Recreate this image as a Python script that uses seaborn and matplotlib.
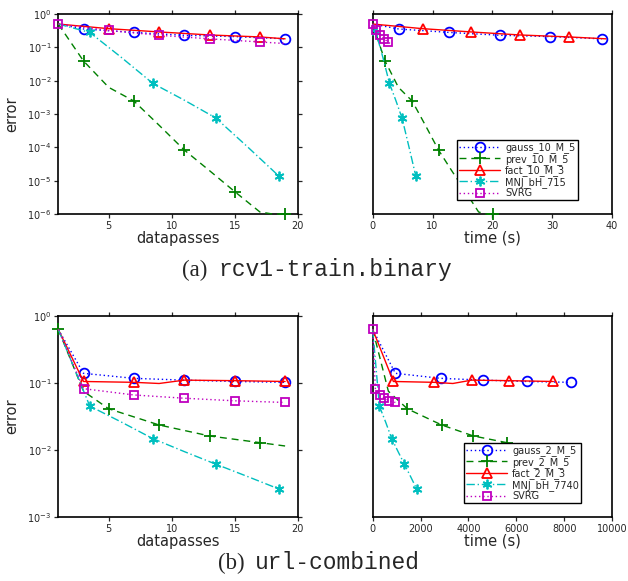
import matplotlib
matplotlib.use("Agg")
import matplotlib.pyplot as plt
import seaborn as sns
from matplotlib.ticker import NullLocator

# ---------------- data ----------------
labels_a = ["gauss_10_M_5", "prev_10_M_5", "fact_10_M_3", "MNJ_bH_715", "SVRG"]
labels_b = ["gauss_2_M_5", "prev_2_M_5", "fact_2_M_3", "MNJ_bH_7740", "SVRG"]

# (a) rcv1-train.binary
dp_gauss_a = [1, 3, 7, 11, 15, 19]
err_gauss_a = [0.5, 0.355, 0.28, 0.23, 0.21, 0.18]
t_gauss_a = [0, 4.35, 12.8, 21.3, 29.7, 38.3]

dp_prev_a = [1, 3, 5, 7, 9, 11, 13, 15, 17, 18, 19]
err_prev_a = [0.5, 0.039, 0.0063, 0.00245, 4.6e-4, 8.3e-5, 2.0e-5, 4.7e-6, 1.15e-6, 1e-6, 1e-6]
t_prev_a = [0, 2.06, 4.3, 6.6, 8.8, 11.0, 13.2, 15.5, 17.7, 18.9, 20.05]

dp_fact_a = [1, 5, 9, 13, 17, 19]
err_fact_a = [0.5, 0.363, 0.29, 0.235, 0.205, 0.18]
t_fact_a = [0, 8.36, 16.4, 24.6, 32.8, 39.0]

dp_mnj_a = [1, 3.5, 6, 8.5, 11, 13.5, 16, 18.5]
err_mnj_a = [0.5, 0.28, 0.05, 0.0083, 0.0026, 7.6e-4, 1.05e-4, 1.38e-5]
t_mnj_a = [0, 0.55, 1.7, 2.8, 3.85, 4.9, 6.05, 7.2]

dp_svrg_a = [1, 5, 9, 13, 17, 19]
err_svrg_a = [0.5, 0.32, 0.23, 0.18, 0.145, 0.13]
t_svrg_a = [0, 0.56, 1.2, 1.9, 2.56, 2.9]

# (b) url-combined
dp_gauss_b = [1, 3, 7, 11, 15, 19]
err_gauss_b = [0.63, 0.139, 0.117, 0.11, 0.105, 0.102]
t_gauss_b = [0, 947, 2841, 4624, 6435, 8273]

dp_prev_b = [1, 3, 5, 9, 13, 17, 19]
err_prev_b = [0.63, 0.075, 0.041, 0.0235, 0.0161, 0.0128, 0.0114]
t_prev_b = [0, 655, 1448, 2883, 4206, 5599, 6300]

dp_fact_b = [1, 3, 7, 9, 11, 15, 19]
err_fact_b = [0.63, 0.105, 0.102, 0.098, 0.11, 0.108, 0.105]
t_fact_b = [0, 864, 2563, 3350, 4136, 5710, 7549]

dp_mnj_b = [1, 3.5, 6, 8.5, 11, 13.5, 16, 18.5]
err_mnj_b = [0.63, 0.045, 0.026, 0.0147, 0.0094, 0.0061, 0.004, 0.0026]
t_mnj_b = [0, 279, 540, 794, 1060, 1323, 1580, 1838]

dp_svrg_b = [1, 3, 7, 11, 15, 19]
err_svrg_b = [0.63, 0.082, 0.066, 0.059, 0.054, 0.051]
t_svrg_b = [0, 111, 306, 487, 696, 947]

# ---------------- style ----------------
sns.set_style("ticks")
plt.rcParams["font.family"] = ["DejaVu Sans"]
plt.rcParams["mathtext.default"] = "regular"

colors = [(0, 0, 1), (0, 0.5, 0), (1, 0, 0), (0, 0.75, 0.75), (0.75, 0, 0.75)]
lstyles = [(0, (1, 2)), (0, (5, 3.5)), "-", (0, (6, 2, 1, 2)), (0, (1, 2))]
markers = ["o", "+", "^", (6, 2, 0), "s"]
msizes = [7, 8, 7, 7, 5.5]

fig = plt.figure(figsize=(6.28, 5.81), dpi=100)
W, H = 628.0, 581.0


def axes_px(x0, x1, ytop, ybot):
    return fig.add_axes([x0 / W, 1 - ybot / H, (x1 - x0) / W, (ybot - ytop) / H])


ax_a1 = axes_px(58.3, 297.7, 14, 214)
ax_a2 = axes_px(372.7, 612, 14, 214)
ax_b1 = axes_px(58.3, 297.7, 316, 516.7)
ax_b2 = axes_px(372.7, 612, 316, 516.7)

panels = [
    (ax_a1, [dp_gauss_a, dp_prev_a, dp_fact_a, dp_mnj_a, dp_svrg_a],
     [err_gauss_a, err_prev_a, err_fact_a, err_mnj_a, err_svrg_a],
     [[1, 2, 3, 4, 5], [1, 3, 5, 7, 10], [1, 2, 3, 4], [1, 3, 5, 7], [0, 1, 2, 3, 4]]),
    (ax_a2, [t_gauss_a, t_prev_a, t_fact_a, t_mnj_a, t_svrg_a],
     [err_gauss_a, err_prev_a, err_fact_a, err_mnj_a, err_svrg_a],
     [[1, 2, 3, 4, 5], [1, 3, 5, 7, 10], [1, 2, 3, 4], [1, 3, 5, 7], [0, 1, 2, 3, 4]]),
    (ax_b1, [dp_gauss_b, dp_prev_b, dp_fact_b, dp_mnj_b, dp_svrg_b],
     [err_gauss_b, err_prev_b, err_fact_b, err_mnj_b, err_svrg_b],
     [[1, 2, 3, 4, 5], [0, 2, 3, 4, 5], [1, 2, 4, 5, 6], [1, 3, 5, 7], [1, 2, 3, 4, 5]]),
    (ax_b2, [t_gauss_b, t_prev_b, t_fact_b, t_mnj_b, t_svrg_b],
     [err_gauss_b, err_prev_b, err_fact_b, err_mnj_b, err_svrg_b],
     [[1, 2, 3, 4, 5], [2, 3, 4, 5], [1, 2, 4, 5, 6], [1, 3, 5, 7], [0, 1, 2, 3, 4, 5]]),
]

for ax, xs, ys, mevs in panels:
    ax.set_yscale("log")
    for i in range(5):
        sns.lineplot(x=xs[i], y=ys[i], ax=ax, color=colors[i], linestyle=lstyles[i],
                     linewidth=1.0, marker=markers[i], markevery=mevs[i],
                     markersize=msizes[i], markerfacecolor="none",
                     markeredgecolor=colors[i], markeredgewidth=1.3,
                     clip_on=False, zorder=3)

for ax in [ax_a1, ax_a2, ax_b1, ax_b2]:
    for sp in ax.spines.values():
        sp.set_visible(True)
        sp.set_linewidth(1.2)
        sp.set_color("black")
    ax.yaxis.set_minor_locator(NullLocator())
    ax.xaxis.set_minor_locator(NullLocator())
    ax.tick_params(axis="both", which="major", direction="out", length=3,
                   width=0.9, labelsize=7, pad=2, top=True, bottom=True)
    ax.set_xlabel("")
    ax.set_ylabel("")

for ax in [ax_a1, ax_a2]:
    ax.set_ylim(1e-6, 1e0)
    ax.set_yticks([1e-6, 1e-5, 1e-4, 1e-3, 1e-2, 1e-1, 1e0])
for ax in [ax_b1, ax_b2]:
    ax.set_ylim(1e-3, 1e0)
    ax.set_yticks([1e-3, 1e-2, 1e-1, 1e0])
for ax in [ax_a1, ax_b1]:
    ax.set_xlim(1, 20)
    ax.set_xticks([5, 10, 15, 20])
    ax.tick_params(axis="y", left=True, right=True)
    ax.set_ylabel("error", fontsize=10.5, labelpad=6)
    ax.set_xlabel("datapasses", fontsize=10.5, labelpad=0)
    ax.yaxis.set_minor_locator(NullLocator())
for ax in [ax_a2, ax_b2]:
    ax.tick_params(axis="y", left=False, right=False, labelleft=False)
    ax.set_xlabel("time (s)", fontsize=10.5, labelpad=0)
    ax.yaxis.set_minor_locator(NullLocator())
ax_a2.set_xlim(0, 40)
ax_a2.set_xticks([0, 10, 20, 30, 40])
ax_b2.set_xlim(0, 10000)
ax_b2.set_xticks([0, 2000, 4000, 6000, 8000, 10000])

# legends
for ax, labs, (lx, ly) in [(ax_a2, labels_a, (457, 140)), (ax_b2, labels_b, (464, 443))]:
    handles = ax.get_lines()[:5]
    leg = ax.legend(handles, labs, loc="upper left",
                    bbox_to_anchor=(lx / W, 1 - ly / H), bbox_transform=fig.transFigure,
                    borderaxespad=0, fontsize=7, labelspacing=0.05, handlelength=4.2,
                    handletextpad=0.5, borderpad=0.25, fancybox=False, framealpha=1,
                    edgecolor="black", numpoints=1)
    leg.get_frame().set_linewidth(1.0)
    leg.set_zorder(10)

# captions
for tag, name, x_tag, x_name, y_base in [("(a)", "rcv1-train.binary", 182, 218, 276),
                                          ("(b)", "url-combined", 218, 255, 569)]:
    fig.text(x_tag / W, 1 - y_base / H, tag, family="Liberation Serif",
             fontsize=16.5, va="baseline", ha="left")
    fig.text(x_name / W, 1 - y_base / H, name, family="Liberation Mono",
             fontsize=16.5, va="baseline", ha="left")

fig.savefig("out.png", dpi=100)
